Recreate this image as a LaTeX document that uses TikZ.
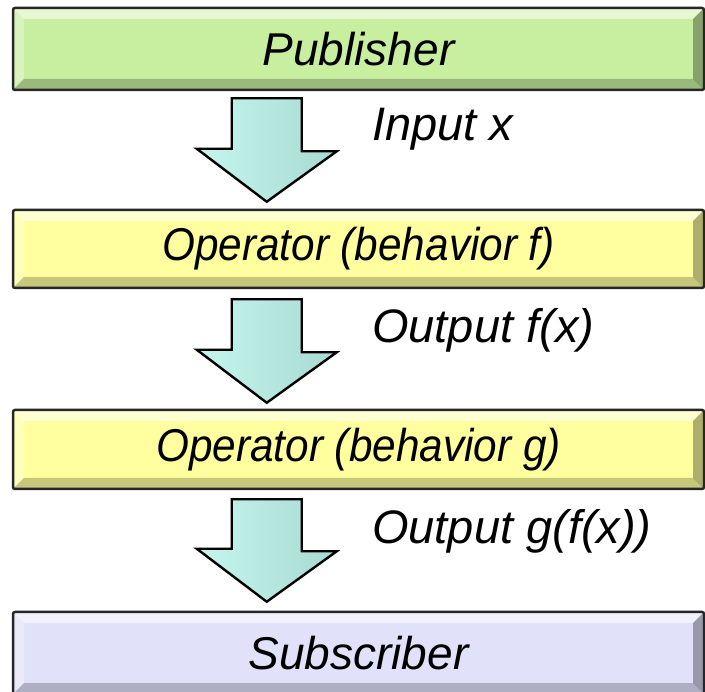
\documentclass[tikz,border=0pt]{standalone}
\usepackage{fontspec}
\setsansfont{Liberation Sans}
\usetikzlibrary{calc}

\definecolor{pubgreen}{RGB}{200,238,160}
\definecolor{opyellow}{RGB}{255,255,160}
\definecolor{sublilac}{RGB}{225,225,250}
\definecolor{flowlight}{RGB}{208,253,246}
\definecolor{flowmid}{RGB}{196,246,238}
\definecolor{flowdark}{RGB}{168,218,210}

\newcommand{\squeeze}[1]{\scalebox{0.92}[1]{#1}}

\begin{document}
\begin{tikzpicture}[
  x=1pt, y=-1pt,
  box/.style={
    draw=black!85, line width=2.5pt, rounded corners=2pt, inner sep=0pt,
    minimum width=691pt,
    font=\sffamily\itshape\fontsize{46}{52}\selectfont,
    path picture={
      \begin{scope}[sharp corners]
      \fill[white, opacity=.55] (path picture bounding box.north west)
        -- (path picture bounding box.north east)
        -- ([shift={(-11pt,-11pt)}]path picture bounding box.north east)
        -- ([shift={(11pt,-11pt)}]path picture bounding box.north west) -- cycle;
      \fill[white, opacity=.3] (path picture bounding box.north west)
        -- (path picture bounding box.south west)
        -- ([shift={(11pt,11pt)}]path picture bounding box.south west)
        -- ([shift={(11pt,-11pt)}]path picture bounding box.north west) -- cycle;
      \fill[black, opacity=.22] (path picture bounding box.south west)
        -- (path picture bounding box.south east)
        -- ([shift={(-11pt,11pt)}]path picture bounding box.south east)
        -- ([shift={(11pt,11pt)}]path picture bounding box.south west) -- cycle;
      \fill[black, opacity=.32] (path picture bounding box.north east)
        -- (path picture bounding box.south east)
        -- ([shift={(-11pt,11pt)}]path picture bounding box.south east)
        -- ([shift={(-11pt,-11pt)}]path picture bounding box.north east) -- cycle;
      \end{scope}
    }
  },
  lbl/.style={anchor=west, inner sep=0pt,
    font=\sffamily\itshape\fontsize{47}{52}\selectfont},
  flow/.style={draw=black, line width=2.4pt, line join=miter,
    left color=flowmid, middle color=flowlight, right color=flowdark},
]
\useasboundingbox (0,0) rectangle (705,692);

% ---- stages -------------------------------------------------------------
\node[box, fill=pubgreen, minimum height=82pt] (pub) at (358.5,49) {Publisher};
\node[box, fill=opyellow, minimum height=78pt] (opf) at (358.5,249)
  {\squeeze{Operator (behavior f)}};
\node[box, fill=opyellow, minimum height=79pt] (opg) at (358.5,449.5)
  {\squeeze{Operator (behavior g)}};
\node[box, fill=sublilac, minimum height=82pt] (sub) at (358.5,653) {Subscriber};

% ---- block arrows -------------------------------------------------------
\draw[flow] ([shift={(220,7)}]pub.south west) -- ++(70,0) -- ++(0,53) -- ++(35,0)
  -- ([shift={(255,-7)}]opf.north west) -- ++(-70,-53) -- ++(35,0) -- cycle;
\draw[flow] ([shift={(220,10)}]opf.south west) -- ++(70,0) -- ++(0,53) -- ++(35,0)
  -- ([shift={(255,-6)}]opg.north west) -- ++(-70,-53) -- ++(35,0) -- cycle;
\draw[flow] ([shift={(220,9)}]opg.south west) -- ++(70,0) -- ++(0,52) -- ++(35,0)
  -- ([shift={(255,-9)}]sub.north west) -- ++(-70,-53) -- ++(35,0) -- cycle;

% ---- values passed along ------------------------------------------------
\node[lbl] (lblin) at (372,129) {Input x};
\node[lbl] (lblf)  at (372,330) {Output f(x)};
\node[lbl] (lblg)  at (372,531) {Output g(f(x))};

\end{tikzpicture}
\end{document}
